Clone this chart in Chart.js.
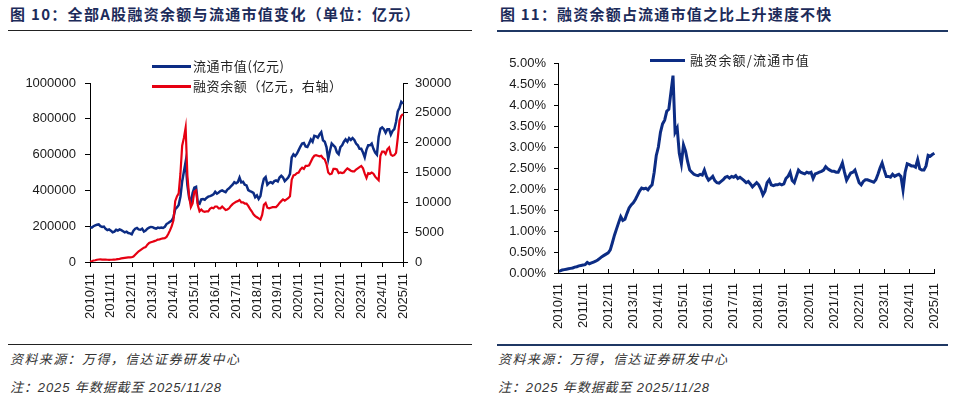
<!DOCTYPE html>
<html>
<head>
<meta charset="utf-8">
<script src="https://cdn.jsdelivr.net/npm/chart.js@4.4.1/dist/chart.umd.min.js"></script>
<style>
  html, body { margin: 0; padding: 0; background: #fff; }
  body { width: 960px; height: 401px; position: relative; overflow: hidden;
         font-family: 'Noto Sans CJK SC', 'Liberation Sans', sans-serif; }
  .title { position: absolute; top: 4px; font-size: 15px; font-weight: bold; color: #1c2b5a;
           letter-spacing: 1.3px; line-height: 20px; white-space: nowrap; }
  .rule { position: absolute; }
  .note { position: absolute; font-size: 13px; font-style: italic; color: #333;
          font-family: 'Liberation Sans', 'Noto Sans CJK SC', sans-serif;
          letter-spacing: 1.4px; line-height: 18px; white-space: nowrap; }
  .note.tight { letter-spacing: 0.9px; }
  .legend { position: absolute; font-size: 13px; color: #222; line-height: 18px;
            white-space: nowrap; letter-spacing: 0.6px; }
  .legend i { position: absolute; height: 2.5px; }
  canvas { position: absolute; }
</style>
</head>
<body>

<div class="title" style="left:10px;">图 10：全部A股融资余额与流通市值变化（单位：亿元）</div>
<div class="title" style="left:500px;letter-spacing:1.2px;">图 11：融资余额占流通市值之比上升速度不快</div>
<div class="rule" style="left:8px;top:30px;width:464px;height:1px;background:#222;"></div>
<div class="rule" style="left:497px;top:30px;width:451px;height:2px;background:#1f3864;"></div>

<canvas id="left" width="480" height="300" style="left:0;top:40px;"></canvas>
<canvas id="right" width="480" height="300" style="left:480px;top:40px;"></canvas>

<div class="legend" style="left:152px;top:57px;"><i style="left:0;top:8px;width:39px;background:#0c2c84;"></i><span style="margin-left:41px;">流通市值(亿元)</span></div>
<div class="legend" style="left:152px;top:77px;"><i style="left:0;top:8px;width:39px;background:#e60012;"></i><span style="margin-left:41px;">融资余额（亿元，右轴）</span></div>
<div class="legend" style="left:650px;top:51px;letter-spacing:1.2px;"><i style="left:0;top:8px;width:35px;background:#0c2c84;"></i><span style="margin-left:40px;">融资余额/流通市值</span></div>

<div class="rule" style="left:8px;top:344px;width:464px;height:1px;background:#222;"></div>
<div class="rule" style="left:497px;top:344px;width:451px;height:2px;background:#1f3864;"></div>
<div class="note" style="left:10px;top:351px;">资料来源：万得，信达证券研发中心</div>
<div class="note tight" style="left:10px;top:379px;">注：2025 年数据截至 2025/11/28</div>
<div class="note" style="left:498px;top:351px;">资料来源：万得，信达证券研发中心</div>
<div class="note tight" style="left:498px;top:379px;">注：2025 年数据截至 2025/11/28</div>

<script>
// year tick labels (one every 12 months)
const yearTicks = ['2010/11', '2011/11', '2012/11', '2013/11', '2014/11', '2015/11', '2016/11', '2017/11',
                   '2018/11', '2019/11', '2020/11', '2021/11', '2022/11', '2023/11', '2024/11', '2025/11'];

// monthly categories 2010/11 .. 2025/11
const months = [];
for (let i = 0; i <= 180; i++) {
    const m = (10 + i) % 12 + 1;
    const y = 2010 + Math.floor((10 + i) / 12);
    months.push(y + '/' + (m < 10 ? '0' + m : m));
}

// 流通市值 (亿元), monthly
const marketCap = [
    195000, 192000, 200000, 205000, 208000, 210000, 200000, 196000, 198000, 185000, 178000, 182000,
    175000, 166000, 170000, 180000, 176000, 182000, 178000, 172000, 166000, 170000, 162000, 160000,
    155000, 175000, 186000, 190000, 182000, 180000, 186000, 170000, 176000, 186000, 192000, 196000,
    195000, 190000, 186000, 192000, 190000, 193000, 190000, 196000, 212000, 218000, 225000, 232000,
    250000, 295000, 305000, 318000, 365000, 450000, 505000, 560000, 430000, 360000, 330000, 385000,
    415000, 420000, 330000, 325000, 350000, 352000, 348000, 358000, 365000, 368000, 372000, 378000,
    392000, 382000, 388000, 396000, 400000, 395000, 390000, 405000, 412000, 422000, 432000, 446000,
    440000, 446000, 472000, 445000, 448000, 432000, 428000, 402000, 396000, 392000, 386000, 362000,
    372000, 352000, 368000, 425000, 465000, 475000, 432000, 442000, 446000, 440000, 452000, 456000,
    450000, 472000, 482000, 472000, 452000, 462000, 472000, 492000, 585000, 602000, 592000, 605000,
    625000, 645000, 662000, 665000, 645000, 642000, 662000, 685000, 672000, 705000, 702000, 695000,
    712000, 725000, 680000, 672000, 642000, 575000, 622000, 662000, 652000, 642000, 612000, 602000,
    642000, 652000, 672000, 685000, 672000, 692000, 682000, 692000, 682000, 662000, 652000, 632000,
    632000, 612000, 585000, 628000, 652000, 652000, 662000, 632000, 612000, 600000, 700000, 745000,
    752000, 742000, 722000, 742000, 742000, 712000, 732000, 742000, 782000, 842000, 862000, 895000,
    885000
];

// 融资余额 (亿元, 右轴)
const marginBal = [
    60, 130, 250, 300, 380, 420, 430, 410, 390, 385, 375, 365,
    380, 385, 400, 430, 480, 520, 600, 650, 700, 740, 770, 790,
    800, 900, 1200, 1500, 1800, 2000, 2200, 2400, 2500, 2900, 3200, 3300,
    3400, 3500, 3600, 3750, 3800, 3900, 3950, 4000, 4200, 4700, 5300, 6000,
    7000, 10200, 11000, 11500, 14800, 19500, 20800, 22500, 14500, 11000, 9200, 9800,
    11800, 12000, 9500, 8500, 8800, 8500, 8400, 8500, 8500, 8900, 9100, 9000,
    9300, 9300, 9000, 9000, 9300, 9000, 8700, 8800, 9000, 9400, 9700, 9900,
    10100, 10200, 10400, 10000, 10000, 9800, 9800, 9400, 8900, 8500, 8000, 7700,
    7500, 7300, 7100, 7900, 9600, 9900, 9100, 9000, 9100, 9200, 9200, 9200,
    9500, 9900, 10200, 10500, 10300, 10500, 10700, 11000, 13800, 14500, 14600, 14900,
    15000, 15500, 15800, 15600, 16100, 16100, 16200, 16800, 17400, 17800, 17900, 17800,
    17700, 17800, 17400, 17200, 16400, 15000, 14700, 14800, 15600, 15600, 15500, 14900,
    15000, 14900, 15000, 15400, 15700, 15500, 15300, 15200, 15200, 15500, 15700, 15900,
    16100, 15700, 14800, 14100, 14900, 14800, 15000, 14800, 14300, 14000, 13700, 17800,
    18500, 18500, 18100, 18900, 19200, 18000, 17800, 17900, 18300, 20800, 23700, 24500,
    24800
];

// 融资余额/流通市值 (%)
const marginRatio = [
    0.04, 0.05, 0.07, 0.08, 0.09, 0.10, 0.11, 0.12, 0.14, 0.15, 0.17, 0.18,
    0.19, 0.20, 0.25, 0.22, 0.24, 0.26, 0.28, 0.31, 0.35, 0.39, 0.42, 0.45,
    0.48, 0.55, 0.72, 0.90, 1.05, 1.20, 1.34, 1.25, 1.28, 1.42, 1.55, 1.62,
    1.67, 1.75, 1.85, 1.95, 2.02, 2.00, 2.02, 1.98, 2.05, 2.10, 2.40, 2.80,
    3.00, 3.35, 3.55, 3.64, 3.85, 3.90, 4.30, 4.70, 3.35, 3.45, 2.85, 2.60,
    3.05, 2.90, 2.65, 2.45, 2.40, 2.35, 2.33, 2.32, 2.35, 2.33, 2.45, 2.30,
    2.21, 2.25, 2.30, 2.20, 2.15, 2.14, 2.18, 2.22, 2.28, 2.30, 2.26, 2.30,
    2.28, 2.32, 2.25, 2.28, 2.24, 2.20, 2.15, 2.18, 2.12, 2.05, 2.10, 2.15,
    2.10, 2.00, 1.86, 1.95, 2.15, 2.22, 2.10, 2.08, 2.10, 2.10, 2.12, 2.10,
    2.12, 2.25, 2.30, 2.40, 2.20, 2.15, 2.30, 2.45, 2.40, 2.38, 2.36, 2.40,
    2.38, 2.40, 2.25, 2.36, 2.38, 2.40, 2.42, 2.45, 2.53, 2.48, 2.45, 2.42,
    2.42, 2.40, 2.40, 2.50, 2.62, 2.40, 2.21, 2.30, 2.38, 2.40, 2.45, 2.30,
    2.15, 2.10, 2.18, 2.22, 2.22, 2.20, 2.18, 2.16, 2.22, 2.35, 2.50, 2.62,
    2.45, 2.30, 2.30, 2.28, 2.35, 2.30, 2.33, 2.35, 2.30, 1.98, 2.40, 2.60,
    2.58, 2.55, 2.55, 2.52, 2.70, 2.48, 2.45, 2.45, 2.55, 2.80, 2.78, 2.82,
    2.85
];

const navy = '#0c2c84';
const red = '#e60012';
const tickFont = { family: "'Liberation Sans', Arial, sans-serif", size: 13 };
const tickColor = '#1a1a1a';

// year ticks on the x axis, drawn at the category positions (len < 0 = inward)
const yearTickMarks = {
    id: 'yearTickMarks',
    afterDraw(chart, args, opts) {
        const xs = chart.scales.x;
        const ctx = chart.ctx;
        const y0 = chart.chartArea.bottom;
        ctx.save();
        ctx.strokeStyle = '#000';
        ctx.lineWidth = 1;
        ctx.beginPath();
        for (let i = 0; i < months.length; i += 12) {
            const px = Math.round(xs.getPixelForValue(i)) + 0.5;
            ctx.moveTo(px, y0);
            ctx.lineTo(px, y0 + opts.len);
        }
        ctx.stroke();
        ctx.restore();
    }
};

function xAxis(height, pad) {
    return {
        type: 'category',
        offset: false,
        grid: { display: false, drawTicks: false },
        border: { display: true, color: '#000', width: 1 },
        ticks: {
            autoSkip: false,
            minRotation: 90,
            maxRotation: 90,
            padding: pad,
            color: tickColor,
            font: tickFont,
            callback: function (val, index) {
                return index % 12 === 0 ? yearTicks[index / 12] : '';
            }
        },
        afterFit: s => { s.height = height; }
    };
}

new Chart(document.getElementById('left'), {
    type: 'line',
    data: {
        labels: months,
        datasets: [
            { label: '融资余额（亿元，右轴）', data: marginBal, yAxisID: 'y1',
              borderColor: red, borderWidth: 2.2, pointRadius: 0, tension: 0 },
            { label: '流通市值(亿元)', data: marketCap, yAxisID: 'y',
              borderColor: navy, borderWidth: 2.5, pointRadius: 0, tension: 0 }
        ]
    },
    options: {
        responsive: false,
        animation: false,
        layout: { padding: { top: 43, left: 0, right: 0, bottom: 0 } },
        plugins: { legend: { display: false }, tooltip: { enabled: false },
                   yearTickMarks: { len: 5 } },
        scales: {
            x: xAxis(78, 11),
            y: {
                position: 'left', min: 0, max: 1000000,
                grid: { display: true, drawOnChartArea: false, tickLength: 5, color: '#000' },
                border: { display: true, color: '#000', width: 1 },
                ticks: { stepSize: 200000, padding: 9, color: tickColor, font: tickFont,
                         callback: v => String(v) },
                afterFit: s => { s.width = 90; }
            },
            y1: {
                position: 'right', min: 0, max: 30000,
                grid: { display: true, drawOnChartArea: false, tickLength: 5, color: '#000' },
                border: { display: true, color: '#000', width: 1 },
                ticks: { stepSize: 5000, padding: 7, color: tickColor, font: tickFont,
                         callback: v => String(v) },
                afterFit: s => { s.width = 77; }
            }
        }
    },
    plugins: [yearTickMarks]
});

new Chart(document.getElementById('right'), {
    type: 'line',
    data: {
        labels: months,
        datasets: [
            { label: '融资余额/流通市值', data: marginRatio,
              borderColor: navy, borderWidth: 3, pointRadius: 0, tension: 0 }
        ]
    },
    options: {
        responsive: false,
        animation: false,
        layout: { padding: { top: 23, left: 0, right: 25, bottom: 0 } },
        plugins: { legend: { display: false }, tooltip: { enabled: false },
                   yearTickMarks: { len: -4 } },
        scales: {
            x: xAxis(67, 10),
            y: {
                min: 0, max: 5,
                grid: { display: true, drawOnChartArea: false, tickLength: 4, color: '#000' },
                border: { display: true, color: '#000', width: 1 },
                ticks: { stepSize: 0.5, padding: 8, color: tickColor, font: tickFont,
                         callback: v => v.toFixed(2) + '%' },
                afterFit: s => { s.width = 78; }
            }
        }
    },
    plugins: [yearTickMarks]
});
</script>
</body>
</html>
